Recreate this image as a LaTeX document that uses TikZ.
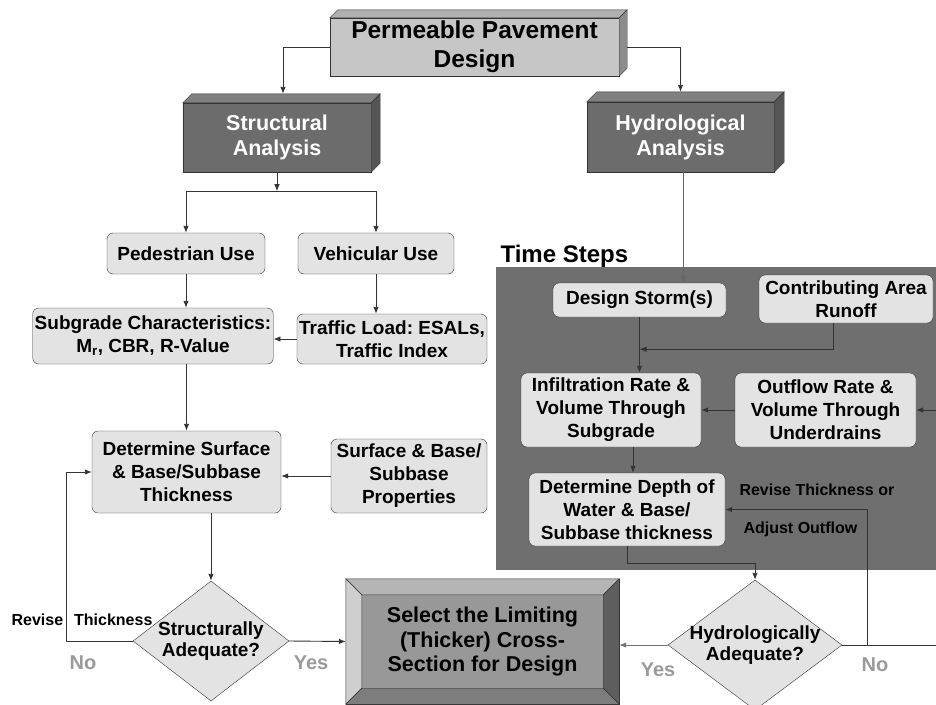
\documentclass[tikz,border=0pt]{standalone}
\usepackage{fontspec}
\setmainfont{Liberation Sans}
\usetikzlibrary{shapes.geometric}
\usetikzlibrary{arrows.meta}

\definecolor{boxgray}{HTML}{E3E3E3}
\definecolor{linegray}{HTML}{333333}
\definecolor{panelgray}{HTML}{6F6F6F}
\definecolor{titlefront}{HTML}{C6C6C6}
\definecolor{titletop}{HTML}{B0B0B0}
\definecolor{titleside}{HTML}{8C8C8C}
\definecolor{anafront}{HTML}{6C6C6C}
\definecolor{anatop}{HTML}{808080}
\definecolor{anaside}{HTML}{555555}
\definecolor{selface}{HTML}{989898}
\definecolor{answergray}{HTML}{9A9A9A}

\tikzset{
  box/.style={draw=linegray, fill=boxgray, rounded corners=6pt, align=center, inner sep=2pt, font=\bfseries\fontsize{19}{23}\selectfont},
  titlebox/.style={draw=linegray, fill=titlefront, align=center, inner sep=2pt, font=\bfseries\fontsize{24.5}{29}\selectfont},
  anabox/.style={draw=linegray, fill=anafront, text=white, align=center, inner sep=2pt, font=\bfseries\fontsize{21.5}{25}\selectfont},
  decision/.style={diamond, draw=linegray, fill=boxgray, inner sep=0pt},
  note/.style={font=\bfseries\fontsize{16}{19}\selectfont},
  answer/.style={text=answergray, font=\bfseries\fontsize{20}{24}\selectfont},
  conn/.style={draw=linegray, line width=0.9pt, -{Latex[length=7pt,width=5.5pt]}},
}

\begin{document}
\frenchspacing
\begin{tikzpicture}[x=1pt,y=-1pt]
\useasboundingbox (0,0) rectangle (936,704);
\clip (0,0) rectangle (936,704);

% time steps panel
\fill[panelgray] (496,267) rectangle (936,570);
\node[anchor=base west, font=\bfseries\fontsize{24}{28}\selectfont] (timesteps) at (497,262) {Time Steps};

% top of the tree
\node[titlebox, minimum width=289pt, minimum height=58pt] (title) at (474.5,47) {Permeable Pavement\\Design};
\node[anabox, minimum width=188pt, minimum height=69pt] (struct) at (277,137.5) {Structural\\Analysis};
\node[anabox, minimum width=187pt, minimum height=70pt] (hydro) at (680.5,137) {Hydrological\\Analysis};
\foreach \n/\d/\ct/\cs in {title/8/titletop/titleside, struct/9/anatop/anaside, hydro/10/anatop/anaside}{
  \filldraw[draw=linegray, fill=\ct] (\n.north west) -- ([xshift=\d pt,yshift=\d pt]\n.north west) -- ([xshift=\d pt,yshift=\d pt]\n.north east) -- (\n.north east) -- cycle;
  \filldraw[draw=linegray, fill=\cs] (\n.north east) -- ([xshift=\d pt,yshift=\d pt]\n.north east) -- ([xshift=\d pt,yshift=\d pt]\n.south east) -- (\n.south east) -- cycle;
}

% structural side
\node[box, minimum width=158pt, minimum height=41pt] (ped) at (186,253.5) {Pedestrian Use};
\node[box, minimum width=156pt, minimum height=41pt] (veh) at (376,253.5) {Vehicular Use};
\node[box, minimum width=240pt, minimum height=56pt] (subgrade) at (153,336) {Subgrade Characteristics:\\M\textsubscript{r}, CBR, R-Value};
\node[box, minimum width=190pt, minimum height=50pt] (traffic) at (392,339) {Traffic Load: ESALs,\\Traffic Index};
\node[box, minimum width=189pt, minimum height=82pt] (determine) at (186.5,472) {Determine Surface\\\& Base/Subbase\\Thickness};
\node[box, minimum width=156pt, minimum height=74pt] (surface) at (409,476) {Surface \& Base/\\Subbase\\Properties};
\node[decision, minimum width=156pt, minimum height=120pt] (sdiam) at (211,641) {};
\node[align=center, font=\bfseries\fontsize{19}{21}\selectfont] (stext) at (sdiam.center) {Structurally\\Adequate?};

% hydrological side
\node[box, minimum width=173pt, minimum height=34pt] (storm) at (639.5,300) {Design Storm(s)};
\node[box, minimum width=174pt, minimum height=48pt] (runoff) at (846,299) {Contributing Area\\Runoff};
\node[box, minimum width=180pt, minimum height=74pt] (infil) at (611,410) {Infiltration Rate \&\\Volume Through\\Subgrade};
\node[box, minimum width=181pt, minimum height=74pt] (outflow) at (825.5,410) {Outflow Rate \&\\Volume Through\\Underdrains};
\node[box, minimum width=196pt, minimum height=73pt] (depth) at (627,509.5) {Determine Depth of\\Water \& Base/\\Subbase thickness};
\node[decision, minimum width=174pt, minimum height=130pt] (hdiam) at (755,645) {};
\node[align=center, font=\bfseries\fontsize{19}{21}\selectfont] (htext) at (hdiam.center) {Hydrologically\\Adequate?};

% result box with bevel
\node[draw=linegray, fill=selface, minimum width=273pt, minimum height=125pt, align=center, font=\bfseries\fontsize{21.5}{24.5}\selectfont] (select) at (482.5,641.5) {Select the Limiting\\(Thicker) Cross-\\Section for Design};
\filldraw[draw=linegray, fill=black!29] (select.north west) -- (select.north east) -- ([xshift=-16pt,yshift=-16pt]select.north east) -- ([xshift=16pt,yshift=-16pt]select.north west) -- cycle;
\filldraw[draw=linegray, fill=black!19] (select.north west) -- ([xshift=16pt,yshift=-16pt]select.north west) -- ([xshift=16pt,yshift=16pt]select.south west) -- (select.south west) -- cycle;
\filldraw[draw=linegray, fill=black!63] (select.north east) -- ([xshift=-16pt,yshift=-16pt]select.north east) -- ([xshift=-16pt,yshift=16pt]select.south east) -- (select.south east) -- cycle;
\filldraw[draw=linegray, fill=black!51] (select.south west) -- ([xshift=16pt,yshift=16pt]select.south west) -- ([xshift=-16pt,yshift=16pt]select.south east) -- (select.south east) -- cycle;

% connectors, structural
\draw[conn] (title.west) -| ([xshift=6pt,yshift=9pt]struct.north);
\draw[conn] ([xshift=8pt]title.east) -| ([yshift=10pt]hydro.north);
\coordinate (split) at ([yshift=-19pt]struct.south);
\draw[conn] (struct.south) -- (split);
\draw[conn] (split) -| (ped.north);
\draw[conn] (split) -| (veh.north);
\draw[conn] (ped.south) -- (ped.south |- subgrade.north);
\draw[conn] (veh.south) -- (veh.south |- traffic.north);
\draw[conn] (traffic.west) -- (traffic.west -| subgrade.east);
\draw[conn] (determine.north |- subgrade.south) -- (determine.north);
\draw[conn] (surface.west) -- (surface.west -| determine.east);
\draw[conn] (sdiam.north |- determine.south) -- (sdiam.north);
\draw[conn] (sdiam.east) -- (select.west);
\draw[conn] (sdiam.west) -- ++(-66,0) |- (determine.west);

% connectors, hydrological
\draw[conn, draw=black!60, line width=0.6pt] ([xshift=3pt]hydro.south) -- ([xshift=3pt]hydro.south |- storm.north);
\draw[conn] (storm.south) -- (storm.south |- infil.north);
\draw[conn] ([xshift=-13pt]runoff.south) |- ([yshift=-32pt]storm.south);
\draw[conn] (outflow.west) -- (infil.east);
\coordinate (edgein) at (936,410);
\draw[conn] (edgein) -- (outflow.east);
\draw[conn] ([xshift=22pt]infil.south) -- ([xshift=22pt]infil.south |- depth.north);
\draw[conn] (depth.south) -- ++(0,17) -| (hdiam.north);
\draw[conn, draw=black!55] (hdiam.west) -- (hdiam.west -| select.east);
\coordinate (edgeno) at (936,645);
\draw[draw=linegray, line width=0.9pt] (hdiam.east) -- (edgeno);
\draw[conn] ([xshift=25pt]hdiam.east) |- (depth.east);

% labels
\node[note] (revs) at (82,620) {Revise\hspace{11pt}Thickness};
\node[note, anchor=west] (reviseh) at (736,490) {Revise Thickness or};
\node[note, anchor=west] (adjust) at (740,529) {Adjust Outflow};
\node[answer] (sno) at (83,663) {No};
\node[answer] (syes) at (311,663) {Yes};
\node[answer] (hyes) at (658,670) {Yes};
\node[answer] (hno) at (875,665) {No};
\end{tikzpicture}
\end{document}
